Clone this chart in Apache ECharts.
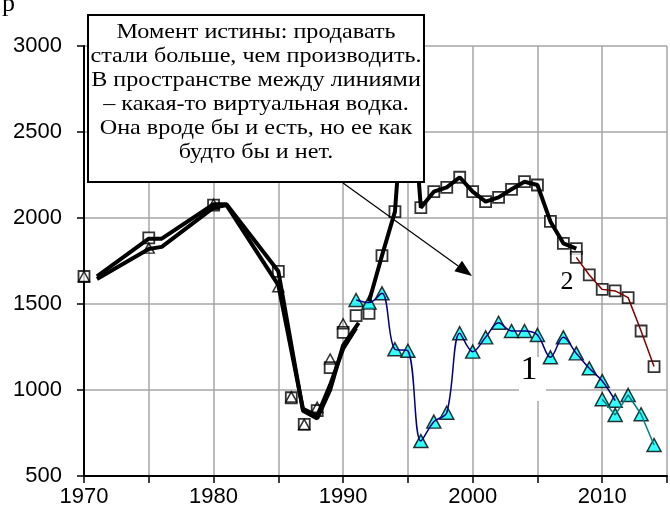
<!DOCTYPE html>
<html>
<head>
<meta charset="utf-8">
<script src="https://cdn.jsdelivr.net/npm/echarts@6/dist/echarts.min.js"></script>
<style>
    html, body { margin: 0; padding: 0; background: #fff; }
    #chart { width: 670px; height: 513px; }
</style>
</head>
<body>
<div id="chart"></div>
<script>
// hollow markers, 1970-1990
var oldYears = [1970, 1975, 1980, 1985, 1986, 1987, 1988, 1989, 1990];
var oldSquares = [1660, 1885, 2075, 1690, 955, 800, 880, 1130, 1335];
var oldTriangles = [1660, 1825, 2080, 1600, 960, 800, 900, 1180, 1385];

// thick black curves, 1971-1991
var thickAYears = [1971, 1975, 1976, 1980, 1981, 1985, 1986.9, 1988, 1989, 1990, 1991.2];
var thickAValues = [1660, 1880, 1880, 2080, 2080, 1690, 880, 835, 1000, 1260, 1390];
var thickBYears = [1971, 1975, 1976, 1980, 1981, 1985, 1986.9, 1988, 1989, 1990, 1991];
var thickBValues = [1645, 1820, 1832, 2060, 2075, 1610, 890, 850, 1030, 1240, 1360];

// series 2 (squares)
var sqYears = [1991, 1992, 1993, 1994, 1996, 1997, 1998, 1999, 2000, 2001, 2002, 2003, 2004, 2005, 2006, 2007, 2008, 2008, 2009, 2010, 2011, 2012, 2013, 2014];
var sqValues = [1432, 1446, 1781, 2037, 2060, 2153, 2178, 2237, 2153, 2095, 2120, 2167, 2211, 2192, 1980, 1853, 1822, 1771, 1669, 1585, 1576, 1537, 1343, 1136];
var boldYears = [1992, 1993, 1994, 1995, 1996, 1997, 1998, 1999, 2000, 2001, 2002, 2003, 2004, 2005, 2006, 2007, 2008];
var boldValues = [1515, 1781, 2037, 3050, 2060, 2153, 2178, 2237, 2153, 2095, 2120, 2167, 2211, 2192, 1980, 1853, 1822];
var redYears = [2008, 2009, 2010, 2011, 2012, 2013, 2014];
var redValues = [1771, 1669, 1585, 1576, 1537, 1343, 1136];

// series 1 (triangles)
var blueYears = [1991, 1992, 1993, 1994, 1995, 1996, 1997, 1998, 1999, 2000, 2001, 2002, 2003, 2004, 2005, 2006, 2007, 2008, 2009, 2010, 2011];
var blueValues = [1523, 1508, 1562, 1237, 1228, 703, 816, 868, 1330, 1223, 1306, 1391, 1343, 1343, 1320, 1190, 1306, 1213, 1126, 1052, 938];
var tealYears = [2010, 2011, 2012, 2013, 2014];
var tealValues = [946, 855, 971, 859, 680];

var yTicks = [500, 1000, 1500, 2000, 2500, 3000];
var xLabelYears = [1970, 1980, 1990, 2000, 2010];

var noteLines = [
    'Момент истины: продавать',
    'стали больше, чем производить.',
    'В пространстве между линиями',
    '– какая-то виртуальная водка.',
    'Она вроде бы и есть, но ее как',
    'будто бы и нет.'
];

function zip(xs, ys) {
    return xs.map(function (x, i) { return [x, ys[i]]; });
}

var chart = echarts.init(document.getElementById('chart'));

var serif = '"Liberation Serif", "Times New Roman", serif';
var sans = '"Liberation Sans", Arial, sans-serif';

function thickLine(data) {
    return {
        type: 'line',
        data: data,
        showSymbol: false,
        symbol: 'none',
        lineStyle: { color: '#000', width: 4 },
        silent: true
    };
}

// arrow from the note box to the gap between lines
var arrowFrom = [343, 183];
var arrowTo = [472, 276];
var dx = arrowTo[0] - arrowFrom[0], dy = arrowTo[1] - arrowFrom[1];
var len = Math.sqrt(dx * dx + dy * dy);
var ux = dx / len, uy = dy / len;
var headLen = 17, headHalf = 6.5;
var bx = arrowTo[0] - ux * headLen, by = arrowTo[1] - uy * headLen;

var option = {
    animation: false,
    backgroundColor: '#fff',
    grid: { left: 84, top: 46, right: 1, bottom: 37 },
    xAxis: {
        type: 'value',
        min: 1970,
        max: 2015,
        interval: 5,
        axisLine: { lineStyle: { color: '#000', width: 2 } },
        axisTick: { show: true, length: 7, lineStyle: { color: '#000', width: 1.5 } },
        axisLabel: {
            margin: 10,
            color: '#000',
            fontFamily: sans,
            fontSize: 22,
            formatter: function (v) { return xLabelYears.indexOf(v) >= 0 ? String(v) : ''; }
        },
        splitLine: { show: true, lineStyle: { color: '#a6a6a6', width: 1.5 } }
    },
    yAxis: {
        type: 'value',
        min: yTicks[0],
        max: yTicks[yTicks.length - 1],
        interval: 500,
        axisLine: { show: true, lineStyle: { color: '#000', width: 2 } },
        axisTick: { show: true, length: 7, lineStyle: { color: '#000', width: 1.5 } },
        axisLabel: {
            margin: 22,
            color: '#000',
            fontFamily: sans,
            fontSize: 22,
            formatter: function (v) { return String(v); }
        },
        splitLine: { show: true, lineStyle: { color: '#a6a6a6', width: 1.5 } }
    },
    graphic: [
        {
            type: 'rect',
            z: 1,
            shape: { x: 519, y: 357, width: 27, height: 44 },
            style: { fill: '#fff' }
        },
        {
            type: 'text',
            z: 50,
            style: { text: '1', x: 529, y: 370, fill: '#000', font: '34px ' + serif, align: 'center', verticalAlign: 'middle' }
        },
        {
            type: 'text',
            z: 50,
            style: { text: '2', x: 567, y: 282, fill: '#000', font: '26px ' + serif, align: 'center', verticalAlign: 'middle' }
        },
        {
            type: 'text',
            z: 50,
            style: { text: 'р', x: 2, y: -9, fill: '#000', font: '26px ' + serif }
        },
        {
            type: 'line',
            z: 60,
            shape: { x1: arrowFrom[0], y1: arrowFrom[1], x2: bx, y2: by },
            style: { stroke: '#000', lineWidth: 1.2 }
        },
        {
            type: 'polygon',
            z: 60,
            shape: {
                points: [
                    arrowTo,
                    [bx - uy * headHalf, by + ux * headHalf],
                    [bx + uy * headHalf, by - ux * headHalf]
                ]
            },
            style: { fill: '#000' }
        },
        {
            type: 'rect',
            z: 100,
            shape: { x: 88, y: 15, width: 336, height: 167 },
            style: { fill: '#fff', stroke: '#000', lineWidth: 2 }
        },
        {
            type: 'text',
            z: 101,
            x: 256,
            y: 20,
            scaleX: 1.15,
            style: {
                text: noteLines.join('\n'),
                x: 0,
                y: 0,
                fill: '#000',
                font: '21px ' + serif,
                lineHeight: 24,
                align: 'center',
                verticalAlign: 'top'
            }
        }
    ],
    series: [
        thickLine(zip(thickAYears, thickAValues)),
        thickLine(zip(thickBYears, thickBValues)),
        {
            type: 'line',
            data: zip(blueYears, blueValues),
            smooth: 0.35,
            showSymbol: false,
            symbol: 'none',
            lineStyle: { color: '#000080', width: 1.5 }
        },
        {
            type: 'line',
            data: zip(tealYears, tealValues),
            showSymbol: false,
            symbol: 'none',
            lineStyle: { color: '#008080', width: 1.5 }
        },
        thickLine(zip(boldYears, boldValues)),
        {
            type: 'line',
            data: zip(redYears, redValues),
            showSymbol: false,
            symbol: 'none',
            lineStyle: { color: '#800000', width: 1.5 }
        },
        {
            type: 'scatter',
            data: zip(oldYears, oldSquares),
            symbol: 'rect',
            symbolSize: 11,
            itemStyle: { color: '#fff', borderColor: '#000', borderWidth: 1.8 }
        },
        {
            type: 'scatter',
            data: zip(oldYears, oldTriangles),
            symbol: 'triangle',
            symbolSize: [11, 10],
            itemStyle: { color: 'rgba(255,255,255,0)', borderColor: '#000', borderWidth: 1.5 }
        },
        {
            type: 'scatter',
            data: zip(sqYears, sqValues),
            symbol: 'rect',
            symbolSize: 11,
            itemStyle: { color: '#fff', borderColor: '#000', borderWidth: 1.8 }
        },
        {
            type: 'scatter',
            data: zip(blueYears, blueValues).concat(zip(tealYears, tealValues)),
            symbol: 'triangle',
            symbolSize: [14, 13],
            itemStyle: { color: '#00ffff', borderColor: '#000', borderWidth: 1.5 }
        }
    ]
};

chart.setOption(option);
</script>
</body>
</html>
